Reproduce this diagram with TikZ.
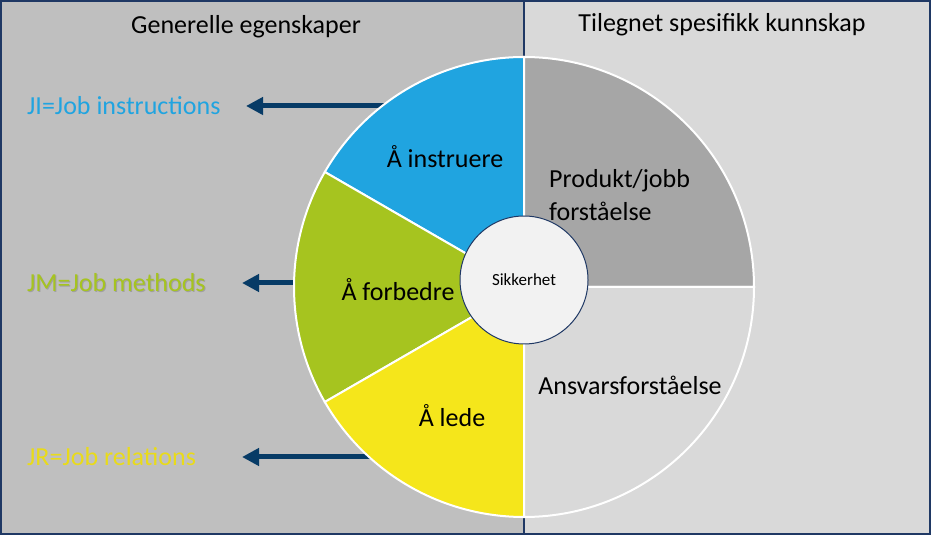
\documentclass[tikz,border=0pt]{standalone}
\usepackage{fontspec}
\setmainfont{Carlito}
\usetikzlibrary{arrows.meta}

\definecolor{panelleft}{HTML}{BFBFBF}
\definecolor{panelright}{HTML}{D9D9D9}
\definecolor{sectopgray}{HTML}{A6A6A6}
\definecolor{secbotgray}{HTML}{D9D9D9}
\definecolor{secblue}{HTML}{20A4E0}
\definecolor{secgreen}{HTML}{A6C41F}
\definecolor{secyellow}{HTML}{F5E61B}
\definecolor{framenavy}{HTML}{1F3864}
\definecolor{arrownavy}{HTML}{073B66}
\definecolor{centrefill}{HTML}{F2F2F2}

\begin{document}
\begin{tikzpicture}[x=1pt, y=1pt,
    sector/.style={draw=white, line width=2pt},
    big text/.style={font=\fontsize{26}{33}\selectfont, inner sep=0pt},
    side label/.style={big text, anchor=west},
    job arrow/.style={draw=arrownavy, line width=5pt, -{Triangle[length=17pt, width=17pt]}}]
    \useasboundingbox (0,0) rectangle (931,535);

    \fill[panelleft] (0,0) rectangle (524,535);
    \fill[panelright] (524,0) rectangle (931,535);
    \draw[framenavy, line width=1.5pt] (524,0) -- (524,535);
    \draw[framenavy, line width=2pt] (1,1) rectangle (930,534);

    \node[big text] (general) at (246,508) {Generelle egenskaper};
    \node[big text] (specific) at (722,510) {Tilegnet spesifikk kunnskap};

    \node[side label, text=secblue] (ji) at (27,429) {JI=Job instructions};
    \node[side label, text=black!45, opacity=0.6] at (28,251) {JM=Job methods};
    \node[side label, text=secgreen] (jm) at (27,252) {JM=Job methods};
    \node[side label, text=secyellow!95!black] (jr) at (27,78) {JR=Job relations};

    \coordinate (centre) at (524,248);
    \coordinate (jistart) at (420,429);
    \coordinate (jitip) at (246,429);
    \coordinate (jmstart) at (330,252);
    \coordinate (jmtip) at (242,252);
    \coordinate (jrstart) at (400,78);
    \coordinate (jrtip) at (242,78);

    \draw[job arrow] (jistart) -- (jitip);
    \draw[job arrow] (jmstart) -- (jmtip);
    \draw[job arrow] (jrstart) -- (jrtip);

    \filldraw[sector, fill=secblue] (centre) -- ++(90:230) arc[start angle=90, end angle=150, radius=230] -- cycle;
    \filldraw[sector, fill=secgreen] (centre) -- ++(150:230) arc[start angle=150, end angle=210, radius=230] -- cycle;
    \filldraw[sector, fill=secyellow] (centre) -- ++(210:230) arc[start angle=210, end angle=270, radius=230] -- cycle;
    \filldraw[sector, fill=sectopgray] (centre) -- ++(0:230) arc[start angle=0, end angle=90, radius=230] -- cycle;
    \filldraw[sector, fill=secbotgray] (centre) -- ++(270:230) arc[start angle=270, end angle=360, radius=230] -- cycle;

    \node[big text] (instruct) at (445,378) {Å instruere};
    \node[big text] (improve) at (398,245) {Å forbedre};
    \node[big text] (lead) at (452,119) {Å lede};
    \node[big text, anchor=west, align=left] (product) at (549,340) {Produkt/jobb\\forståelse};
    \node[big text] (duty) at (630,150) {Ansvarsforståelse};

    \node[draw=framenavy, line width=1pt, fill=centrefill, circle, minimum size=128pt,
          font=\fontsize{17}{20}\selectfont] (safety) at (524,255) {Sikkerhet};
\end{tikzpicture}
\end{document}
